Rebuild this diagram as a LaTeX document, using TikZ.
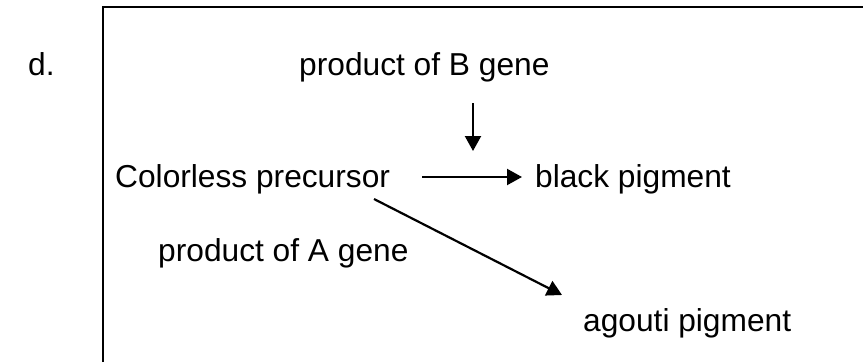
\documentclass[tikz,border=0pt]{standalone}
\usepackage{fontspec}
\setmainfont{Liberation Sans}
\usetikzlibrary{arrows.meta}
\tikzset{
  lbl/.style={anchor=base west, inner sep=0pt, font=\fontsize{31.7}{38}\selectfont},
  conn/.style={line width=2.2pt, -{Triangle[length=15pt,width=16pt]}},
  frame/.style={line width=2.6pt}
}
\begin{document}
\begin{tikzpicture}[x=1pt,y=-1pt]
\useasboundingbox (0,0) rectangle (863,362);
\draw[frame] (103,362) -- (103,7) -- (863,7);
\node[lbl] (d) at (28,75) {d.};
\node[lbl] (pb) at (299,75) {product of B gene};
\node[lbl] (cp) at (115,187) {Colorless precursor};
\node[lbl] (bp) at (535,187) {black pigment};
\node[lbl] (pa) at (158,261) {product of A gene};
\node[lbl] (ap) at (583,331) {agouti pigment};
\coordinate (vs) at (473,103);
\coordinate (ve) at (473,151);
\coordinate (hs) at (422,177);
\coordinate (he) at (522,177);
\coordinate (ds) at (374,199);
\coordinate (de) at (562,295);
\draw[conn] (vs) -- (ve);
\draw[conn] (hs) -- (he);
\draw[conn] (ds) -- (de);
\end{tikzpicture}
\end{document}
